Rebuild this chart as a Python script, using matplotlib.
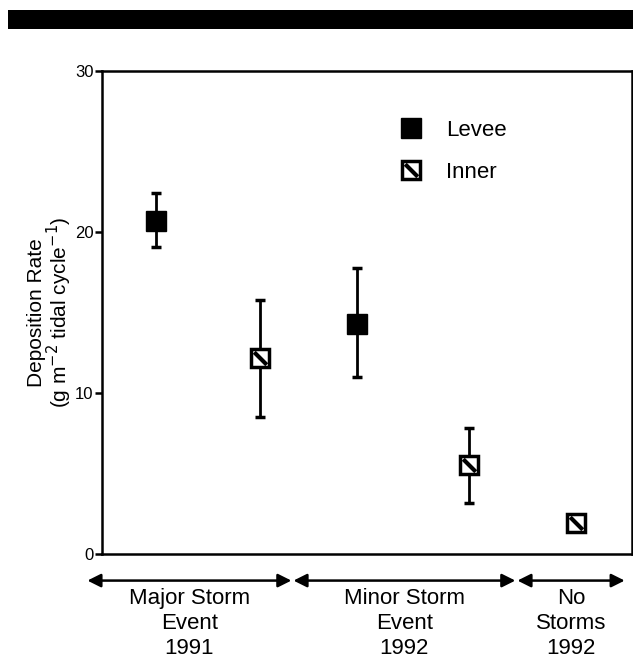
import matplotlib
matplotlib.use("Agg")
import matplotlib.pyplot as plt
from matplotlib.path import Path
from matplotlib.patches import Rectangle
from matplotlib.legend_handler import HandlerTuple

plt.rcParams['font.family'] = ['Liberation Sans', 'DejaVu Sans']

# ---- data ----
levee_x = [1, 2.91]
levee_y = [20.7, 14.3]
levee_lo = [19.1, 11.0]
levee_hi = [22.4, 17.8]

inner_x = [1.99, 3.98, 5.0]
inner_y = [12.2, 5.5, 1.9]
inner_lo = [8.5, 3.2, None]
inner_hi = [15.8, 7.8, None]

groups = ["Major Storm\nEvent\n1991", "Minor Storm\nEvent\n1992", "No\nStorms\n1992"]
group_spans = [(0.35, 2.29), (2.31, 4.42), (4.44, 5.46)]
yticks = [0, 10, 20, 30]

fig = plt.figure(figsize=(6.33, 6.59), dpi=100)
ax = fig.add_axes([0.161, 0.1593, 0.8375, 0.7327])

# top black bar (scan header)
fig.patches.append(Rectangle((8/633, 1-29/659), 1, 19/659, transform=fig.transFigure,
                             facecolor='black', edgecolor='none'))

def errs(y, lo, hi):
    low = [(v - l) for v, l in zip(y, lo)]
    up = [(h - v) for v, h in zip(y, hi)]
    return [low, up]

# Levee
ax.errorbar(levee_x, levee_y, yerr=errs(levee_y, levee_lo, levee_hi), fmt='none',
            ecolor='black', elinewidth=2, capsize=3.5, capthick=2.5, zorder=2)
lev, = ax.plot(levee_x, levee_y, 's', color='black', markersize=14, zorder=3)

# Inner (only the ones with error bars)
ix = [x for x, l in zip(inner_x, inner_lo) if l is not None]
iy = [y for y, l in zip(inner_y, inner_lo) if l is not None]
ilo = [l for l in inner_lo if l is not None]
ihi = [h for h in inner_hi if h is not None]
ax.errorbar(ix, iy, yerr=errs(iy, ilo, ihi), fmt='none',
            ecolor='black', elinewidth=2, capsize=3.5, capthick=2.5, zorder=2)
inn_sq, = ax.plot(inner_x, inner_y, 's', markerfacecolor='white', markeredgecolor='black',
                  markeredgewidth=2.5, markersize=12.5, zorder=3, linestyle='none')
diag = Path([(-1, 1), (1, -1)], [Path.MOVETO, Path.LINETO])
inn_dg, = ax.plot(inner_x, inner_y, marker=diag, color='black', markersize=9,
                  markeredgewidth=3, linestyle='none', zorder=4)

ax.set_xlim(0.488, 5.53)
ax.set_ylim(0, 30)
ax.set_yticks(yticks)
ax.set_xticks([])
for s in ax.spines.values():
    s.set_linewidth(1.8)
ax.tick_params(axis='y', direction='out', length=5, width=1.8, labelsize=12, pad=1)
ax.set_ylabel("Deposition Rate\n(g m$^{-2}$ tidal cycle$^{-1}$)", fontsize=15,
              labelpad=1, linespacing=0.92)

leg = ax.legend([lev, (inn_sq, inn_dg)], ["Levee", "Inner"],
                handler_map={tuple: HandlerTuple(ndivide=1, pad=0)},
                loc='upper left', bbox_to_anchor=(0.52, 0.94), frameon=False,
                fontsize=16, handletextpad=1.0, labelspacing=0.95, numpoints=1,
                handlelength=1.2)

# group arrows and labels beneath axis
for (x0, x1), lab in zip(group_spans, groups):
    ax.annotate("", xy=(x1, -0.055), xytext=(x0, -0.055),
                xycoords=('data', 'axes fraction'), textcoords=('data', 'axes fraction'),
                arrowprops=dict(arrowstyle='<|-|>', color='black', lw=1.8,
                                mutation_scale=20, shrinkA=0, shrinkB=0),
                annotation_clip=False)
    ax.text((x0 + x1) / 2, -0.07, lab, transform=ax.get_xaxis_transform(),
            ha='center', va='top', fontsize=16, linespacing=1.25, clip_on=False)

fig.savefig("out.png", dpi=100)
